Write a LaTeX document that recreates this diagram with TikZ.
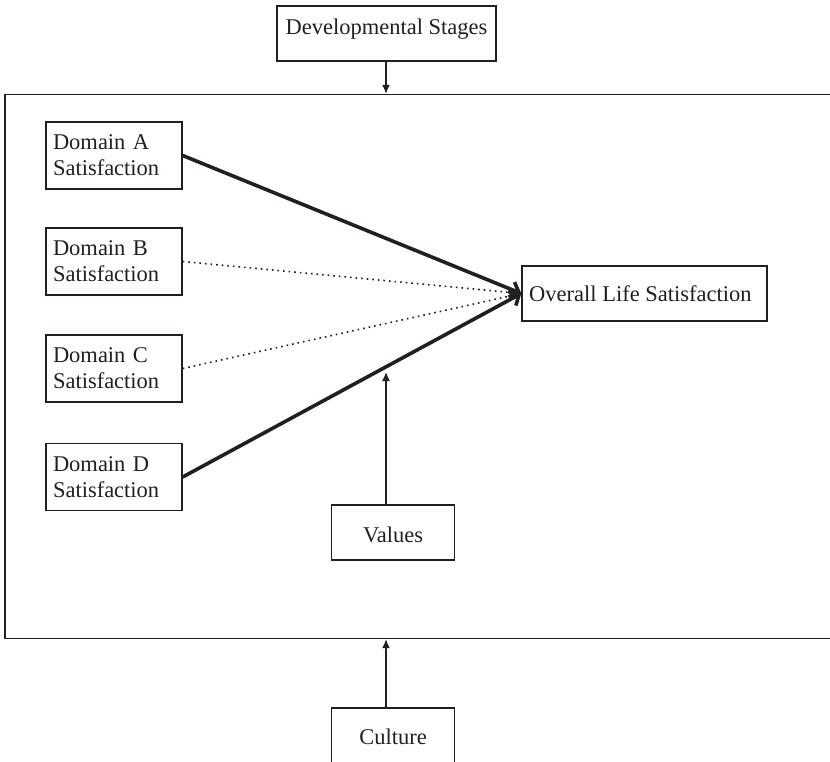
\documentclass[tikz,border=0pt]{standalone}
\usepackage{fontspec}
\setmainfont{Liberation Serif}
\usetikzlibrary{arrows.meta}
\definecolor{ink}{HTML}{231F20}
\tikzset{
  box/.style={draw=ink, line width=1.4pt, inner sep=0pt, font=\fontsize{22.5}{26}\selectfont, text=ink},
  domainbox/.style={box, minimum width=136pt, minimum height=67pt, text width=122pt, inner xsep=7pt, align=left},
  plainarrow/.style={draw=ink, line width=1.3pt, -{Latex[length=9pt,width=8pt]}},
  strongpath/.style={draw=ink, line width=3.6pt, line cap=round, -{Straight Barb[length=8pt,width=16pt]}},
  weakpath/.style={draw=ink, line width=1.6pt, dash pattern=on 1.6pt off 4pt},
  lbl/.style={font=\fontsize{22.5}{26}\selectfont, text=ink, inner sep=0pt}
}
\begin{document}
\begin{tikzpicture}[x=1pt,y=-1pt]
\useasboundingbox (0,0) rectangle (830,761);
\clip (0,0) rectangle (830,761);
% outer frame
\node[box, minimum width=840pt, minimum height=544pt] (frame) at (425,366.5) {};
% developmental stages
\node[box, minimum width=219pt, minimum height=55pt] (dev) at (386.5,33.5) {};
\node[lbl] (devtext) at (386.5,29.5) {Developmental Stages};
% domains
\node[domainbox] (da) at (114,155.5) {Domain A\\Satisfaction};
\node[domainbox] (db) at (114,261.5) {Domain B\\Satisfaction};
\node[domainbox] (dc) at (114,368.5) {Domain C\\Satisfaction};
\node[domainbox] (dd) at (114,477) {Domain D\\Satisfaction};
% outcome
\node[box, minimum width=245pt, minimum height=55pt] (ols) at (644.5,293.5) {};
\node[lbl, anchor=west] (olstext) at (529,294) {Overall Life Satisfaction};
% values
\node[box, minimum width=122.5pt, minimum height=55pt] (values) at (393,532.5) {};
\node[lbl] (valuestext) at (393,534.5) {Values};
% culture
\node[box, minimum width=122.5pt, minimum height=80pt] (culture) at (393,748) {};
\node[lbl] (culturetext) at (393,737) {Culture};
% connectors
\coordinate (axis) at (386,0);
\coordinate (vtip) at (386,372);
\draw[plainarrow] (dev.south -| axis) -- (frame.north -| axis);
\draw[plainarrow] (culture.north -| axis) -- (frame.south -| axis);
\draw[plainarrow] (values.north -| axis) -- (vtip);
\draw[weakpath] (db.east) -- (ols.west);
\draw[weakpath] (dc.east) -- (ols.west);
\draw[strongpath] (da.east) -- (ols.west);
\draw[strongpath] (dd.east) -- (ols.west);
\end{tikzpicture}
\end{document}
